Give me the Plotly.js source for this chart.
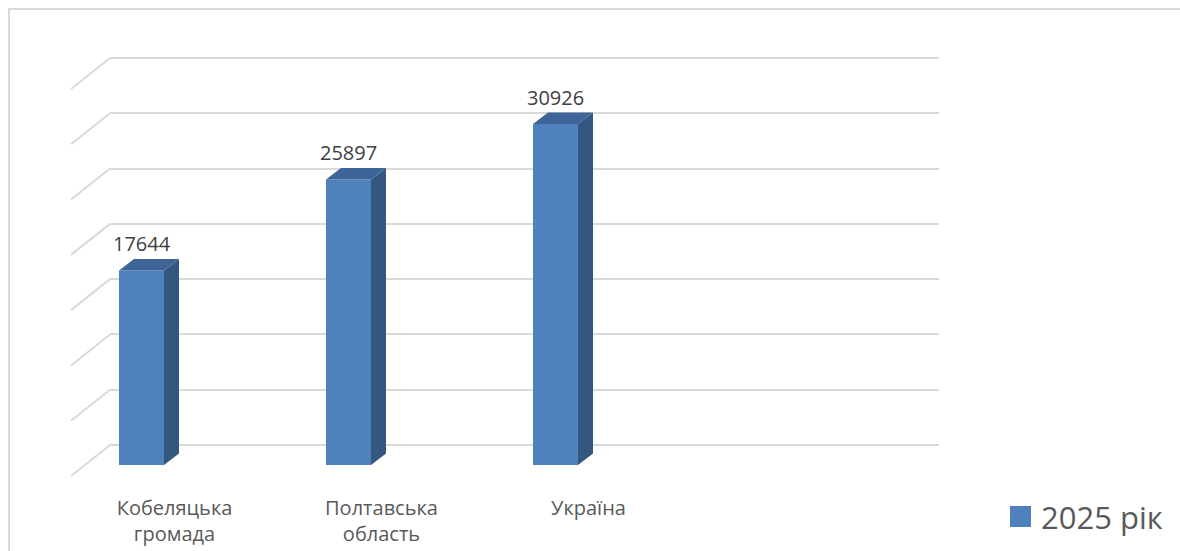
<!DOCTYPE html>
<html>
<head>
<meta charset="utf-8">
<script src="https://cdn.plot.ly/plotly-3.0.1.min.js"></script>
<style>html,body{margin:0;padding:0;background:#fff;}</style>
</head>
<body>
<div id="chart" style="width:1180px;height:551px;"></div>
<script>
// ---- data ----
const categories = ['Кобеляцька громада', 'Полтавська область', 'Україна'];
const tickLabels = ['Кобеляцька<br>громада', 'Полтавська<br>область', 'Україна'];
const values2025 = [17644, 25897, 30926];
const seriesName = '2025 рік';
const gridTicks = [0, 5000, 10000, 15000, 20000, 25000, 30000, 35000];

// ---- layout helpers (pixel geometry of the picture) ----
const W = 1180, H = 551;
const fx = p => p / W;
function yDomain(r0, r1, v0, p0, v1, p1) {
  const k = (p0 - p1) / (v1 - v0);
  const pb = p0 + (v0 - r0) * k;
  const pt = p0 - (r1 - v0) * k;
  return [1 - pb / H, 1 - pt / H];
}
const gridRange = [-3600, 35300];   // extended below so the wall diagonals are not clipped
const yRange = [-300, 35300];
const gridDomain = yDomain(gridRange[0], gridRange[1], 0, 445, 35000, 58);
const barDomain = yDomain(yRange[0], yRange[1], 0, 465, 35000, 79);
const barK = (465 - 79) / 35000;          // px per unit on bar axis
const depthX = 15, depthY = 11.5;          // 3D depth offset in px
const depthYData = depthY / barK;
const halfW = 22.5;

const frontColor = '#4F81BD';
const sideColor = '#34577F';
const topColor = '#3D6598';
const gridColor = '#D9D9D9';
const textColor = '#595959';
const FONT = 'Open Sans, Noto Sans, sans-serif';

const traces = [{
  type: 'bar',
  name: seriesName,
  x: categories,
  y: values2025,
  xaxis: 'x2',
  yaxis: 'y2',
  width: 45 / 207,
  marker: {color: frontColor, line: {width: 0}},
  showlegend: false,
  hoverinfo: 'x+y'
}];

const shapes = [];
// chart border
shapes.push({type: 'rect', xref: 'paper', yref: 'paper',
  x0: fx(9), x1: 1.2, y0: -0.2, y1: 1 - 9 / H,
  line: {color: gridColor, width: 2}, fillcolor: 'rgba(0,0,0,0)', layer: 'below'});
// left wall diagonals at each gridline
gridTicks.forEach(v => {
  shapes.push({type: 'line', xref: 'paper', yref: 'y',
    xsizemode: 'pixel', ysizemode: 'pixel', xanchor: fx(110), yanchor: v,
    x0: 0, y0: 0, x1: -39, y1: -31,
    line: {color: gridColor, width: 2}, layer: 'below'});
});
// 3D side and top faces of bars
categories.forEach((c, i) => {
  const v = values2025[i];
  shapes.push({type: 'path', xref: 'x2', yref: 'y2', xsizemode: 'pixel', xanchor: c,
    path: `M${halfW},0 L${halfW + depthX},${depthYData} L${halfW + depthX},${v + depthYData} L${halfW},${v} Z`,
    fillcolor: sideColor, line: {width: 0}});
  shapes.push({type: 'path', xref: 'x2', yref: 'y2', xsizemode: 'pixel', xanchor: c,
    path: `M${-halfW},${v} L${-halfW + depthX},${v + depthYData} L${halfW + depthX},${v + depthYData} L${halfW},${v} Z`,
    fillcolor: topColor, line: {width: 0}});
});
// legend swatch
shapes.push({type: 'rect', xref: 'paper', yref: 'paper',
  x0: fx(1010), x1: fx(1031), y0: 1 - 527 / H, y1: 1 - 506 / H,
  fillcolor: frontColor, line: {width: 0}});

const annotations = categories.map((c, i) => ({
  xref: 'x2', yref: 'y2', x: c, y: values2025[i],
  text: String(values2025[i]), showarrow: false,
  yanchor: 'bottom', yshift: 11,
  font: {family: FONT, size: 20, color: '#404040'}
}));
annotations.push({xref: 'paper', yref: 'paper', x: fx(1039), y: 1 - 517 / H,
  xanchor: 'left', yanchor: 'middle', text: seriesName, showarrow: false,
  font: {family: FONT, size: 31, color: textColor}});

const layout = {
  width: W, height: H, autosize: false,
  margin: {l: 0, r: 0, t: 0, b: 0, pad: 0},
  paper_bgcolor: '#ffffff', plot_bgcolor: 'rgba(0,0,0,0)',
  showlegend: false,
  font: {family: FONT, color: textColor},
  xaxis: {domain: [fx(110), fx(939)], range: [0, 1], anchor: 'y',
    showgrid: false, zeroline: false, showline: false, showticklabels: false, ticks: '', fixedrange: true},
  yaxis: {domain: gridDomain, range: gridRange, anchor: 'x',
    tickmode: 'array', tickvals: gridTicks,
    showgrid: true, gridcolor: gridColor, gridwidth: 2,
    zeroline: false, showline: false, showticklabels: false, ticks: '', fixedrange: true},
  xaxis2: {domain: [fx(38), fx(866)], range: [-0.5, 3.5], anchor: 'y2', type: 'category',
    tickmode: 'array', tickvals: categories, ticktext: tickLabels,
    showgrid: false, zeroline: false, showline: false, ticks: '',
    ticklabelstandoff: 26, ticklabelshift: 33,
    tickfont: {family: FONT, size: 20, color: textColor}, fixedrange: true},
  yaxis2: {domain: barDomain, range: yRange, anchor: 'x2',
    showgrid: false, zeroline: false, showline: false, showticklabels: false, ticks: '', fixedrange: true},
  shapes: shapes,
  annotations: annotations
};

Plotly.newPlot('chart', traces, layout, {displayModeBar: false, staticPlot: true});
</script>
</body>
</html>
